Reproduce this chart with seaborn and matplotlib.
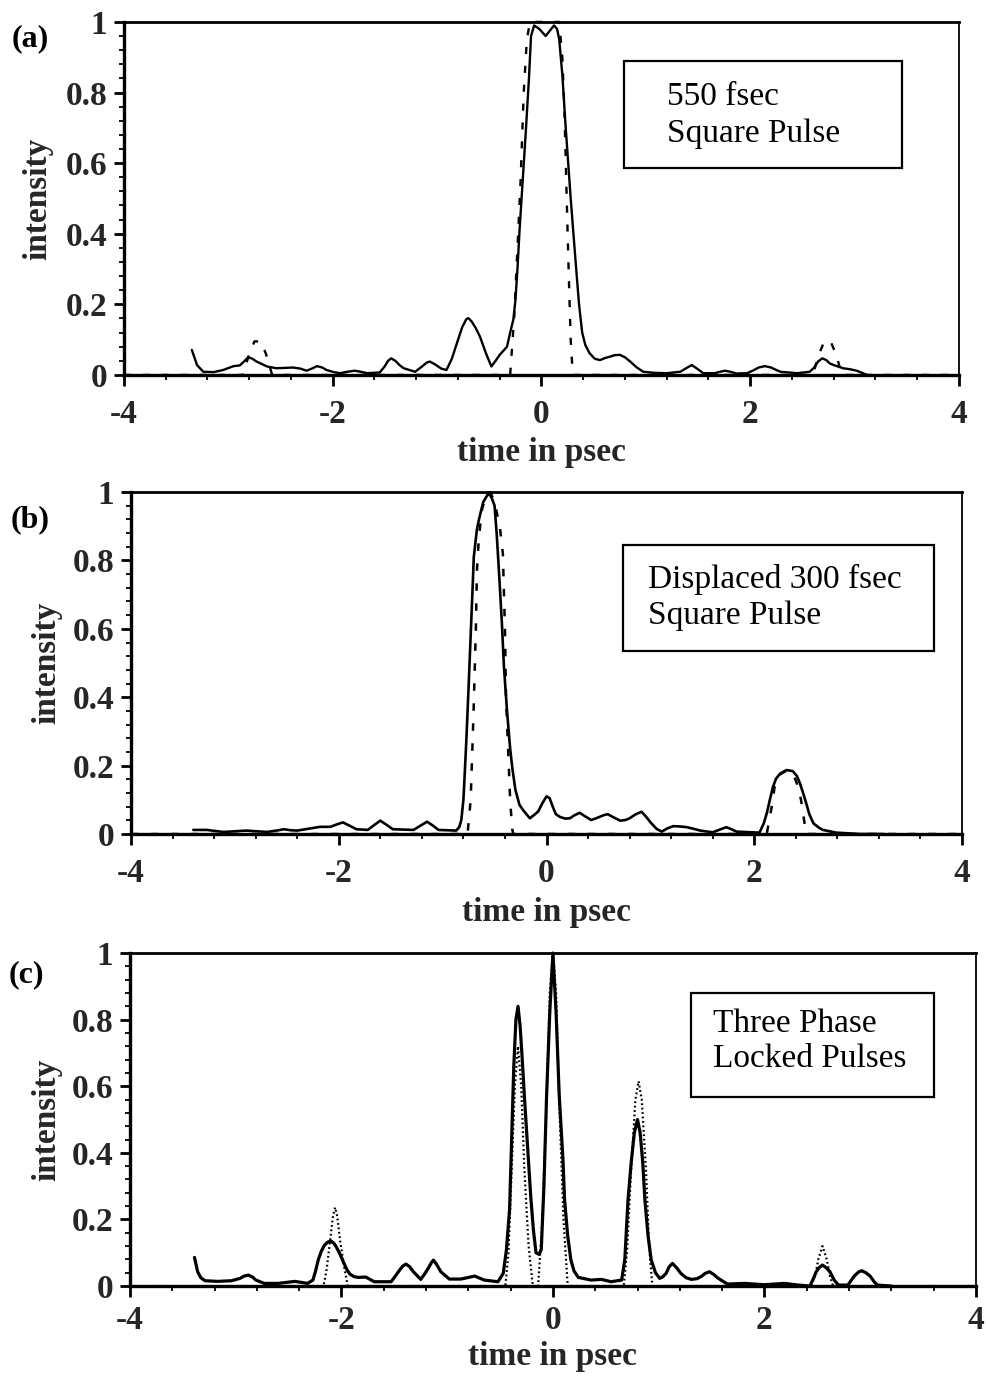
import matplotlib
matplotlib.use("Agg")
import matplotlib.pyplot as plt
from matplotlib.ticker import MultipleLocator
from matplotlib.patches import Rectangle
import pandas as pd
import seaborn as sns

sns.set_theme(style="ticks")
plt.rcParams["font.family"] = ["Liberation Serif", "DejaVu Serif"]
plt.rcParams["axes.unicode_minus"] = False

# ---------------------------------------------------------------- data
x_ticks = [-4, -2, 0, 2, 4]
x_tick_labels = ["-4", "-2", "0", "2", "4"]
y_ticks = [0, 0.2, 0.4, 0.6, 0.8, 1.0]
y_tick_labels = ["0", "0.2", "0.4", "0.6", "0.8", "1"]
x_label = "time in psec"
y_label = "intensity"
panel_tags = ["(a)", "(b)", "(c)"]
box_texts = [["550 fsec", "Square Pulse"],
             ["Displaced 300 fsec", "Square Pulse"],
             ["Three Phase", "Locked Pulses"]]

# (a) 550 fsec square pulse: measured (solid) and target (dashed)
a_measured = [
    (-3.35, 0.071), (-3.30, 0.028), (-3.24, 0.009), (-3.14, 0.008), (-3.05, 0.014),
    (-2.95, 0.025), (-2.89, 0.027), (-2.85, 0.038), (-2.81, 0.050), (-2.77, 0.046),
    (-2.73, 0.038), (-2.63, 0.024), (-2.54, 0.019), (-2.46, 0.020), (-2.38, 0.021),
    (-2.31, 0.018), (-2.25, 0.012), (-2.20, 0.018), (-2.15, 0.025), (-2.10, 0.021),
    (-2.06, 0.014), (-1.99, 0.008), (-1.93, 0.005), (-1.86, 0.009), (-1.79, 0.012),
    (-1.73, 0.009), (-1.67, 0.005), (-1.55, 0.007), (-1.50, 0.025), (-1.47, 0.040),
    (-1.44, 0.047), (-1.40, 0.040), (-1.36, 0.028), (-1.32, 0.019), (-1.21, 0.009),
    (-1.14, 0.025), (-1.10, 0.035), (-1.07, 0.038), (-1.02, 0.030), (-0.96, 0.018),
    (-0.91, 0.014), (-0.86, 0.045), (-0.81, 0.090), (-0.76, 0.135), (-0.72, 0.158),
    (-0.70, 0.161), (-0.67, 0.152), (-0.63, 0.133), (-0.59, 0.109), (-0.53, 0.060),
    (-0.48, 0.024), (-0.44, 0.040), (-0.40, 0.057), (-0.33, 0.080), (-0.30, 0.120),
    (-0.27, 0.156), (-0.25, 0.210), (-0.23, 0.300), (-0.21, 0.410), (-0.18, 0.550),
    (-0.15, 0.690), (-0.12, 0.840), (-0.10, 0.960), (-0.07, 0.990), (-0.02, 0.980),
    (0.04, 0.960), (0.08, 0.975), (0.12, 0.990), (0.15, 0.980), (0.17, 0.950),
    (0.20, 0.850), (0.23, 0.710), (0.28, 0.500), (0.33, 0.310), (0.36, 0.200),
    (0.39, 0.120), (0.42, 0.085), (0.46, 0.062), (0.51, 0.046), (0.56, 0.042),
    (0.61, 0.048), (0.66, 0.052), (0.70, 0.056), (0.75, 0.057), (0.80, 0.050),
    (0.85, 0.038), (0.91, 0.022), (0.975, 0.009), (1.08, 0.006), (1.20, 0.005),
    (1.33, 0.009), (1.38, 0.018), (1.44, 0.028), (1.49, 0.018), (1.55, 0.005),
    (1.66, 0.005), (1.71, 0.009), (1.76, 0.012), (1.81, 0.009), (1.87, 0.004),
    (1.97, 0.005), (2.03, 0.013), (2.08, 0.021), (2.14, 0.025), (2.20, 0.021),
    (2.25, 0.014), (2.29, 0.009), (2.45, 0.005), (2.57, 0.009), (2.61, 0.020),
    (2.65, 0.038), (2.69, 0.047), (2.73, 0.042), (2.76, 0.033), (2.80, 0.028),
    (2.89, 0.019), (2.96, 0.016), (3.02, 0.012), (3.07, 0.006), (3.12, 0.000),
]
a_target = [
    (-4.00, 0.0), (-2.86, 0.0), (-2.80, 0.06), (-2.75, 0.095), (-2.69, 0.095),
    (-2.64, 0.06), (-2.58, 0.0), (-0.30, 0.0), (-0.26, 0.17), (-0.23, 0.36),
    (-0.20, 0.55), (-0.17, 0.80), (-0.14, 0.95), (-0.11, 1.0), (0.17, 1.0),
    (0.20, 0.90), (0.22, 0.75), (0.24, 0.52), (0.26, 0.30), (0.28, 0.10),
    (0.30, 0.0), (2.60, 0.0), (2.66, 0.06), (2.71, 0.095), (2.77, 0.095),
    (2.82, 0.06), (2.88, 0.0), (4.00, 0.0),
]

# (b) displaced 300 fsec square pulse
b_measured = [
    (-3.40, 0.012), (-3.27, 0.012), (-3.11, 0.006), (-2.89, 0.010), (-2.69, 0.006),
    (-2.58, 0.011), (-2.53, 0.014), (-2.46, 0.011), (-2.40, 0.010), (-2.28, 0.016),
    (-2.18, 0.021), (-2.08, 0.021), (-2.02, 0.028), (-1.96, 0.034), (-1.90, 0.025),
    (-1.83, 0.014), (-1.72, 0.012), (-1.66, 0.026), (-1.60, 0.039), (-1.54, 0.027),
    (-1.48, 0.014), (-1.28, 0.012), (-1.21, 0.025), (-1.15, 0.036), (-1.09, 0.024),
    (-1.04, 0.012), (-0.87, 0.010), (-0.84, 0.020), (-0.82, 0.041), (-0.80, 0.100),
    (-0.79, 0.158), (-0.77, 0.285), (-0.75, 0.430), (-0.73, 0.580), (-0.71, 0.730),
    (-0.70, 0.810), (-0.67, 0.890), (-0.65, 0.920), (-0.61, 0.970), (-0.56, 0.996),
    (-0.53, 0.985), (-0.50, 0.960), (-0.48, 0.880), (-0.46, 0.780), (-0.43, 0.620),
    (-0.41, 0.490), (-0.38, 0.360), (-0.35, 0.250), (-0.33, 0.195), (-0.30, 0.130),
    (-0.26, 0.085), (-0.22, 0.068), (-0.16, 0.046), (-0.11, 0.058), (-0.08, 0.066),
    (-0.04, 0.090), (0.00, 0.110), (0.03, 0.105), (0.06, 0.080), (0.09, 0.058),
    (0.13, 0.050), (0.18, 0.045), (0.225, 0.046), (0.27, 0.055), (0.32, 0.062),
    (0.37, 0.052), (0.43, 0.041), (0.47, 0.045), (0.51, 0.050), (0.55, 0.055),
    (0.59, 0.058), (0.65, 0.048), (0.71, 0.039), (0.76, 0.041), (0.80, 0.046),
    (0.86, 0.058), (0.915, 0.065), (0.96, 0.050), (1.01, 0.031), (1.06, 0.015),
    (1.11, 0.007), (1.16, 0.016), (1.22, 0.023), (1.29, 0.022), (1.35, 0.020),
    (1.42, 0.015), (1.48, 0.010), (1.60, 0.005), (1.66, 0.012), (1.73, 0.020),
    (1.78, 0.014), (1.83, 0.007), (2.05, 0.004), (2.09, 0.030), (2.12, 0.060),
    (2.15, 0.100), (2.18, 0.138), (2.21, 0.162), (2.25, 0.177), (2.31, 0.187),
    (2.37, 0.184), (2.41, 0.170), (2.44, 0.148), (2.47, 0.120), (2.50, 0.090),
    (2.53, 0.058), (2.57, 0.031), (2.62, 0.019), (2.66, 0.012), (2.79, 0.004),
    (3.02, 0.000), (3.25, 0.000),
]
b_target = [
    (-4.00, 0.0), (-0.76, 0.0), (-0.73, 0.10), (-0.72, 0.19), (-0.70, 0.38),
    (-0.68, 0.60), (-0.67, 0.77), (-0.65, 0.87), (-0.62, 0.95), (-0.58, 0.99),
    (-0.54, 1.0), (-0.50, 0.97), (-0.45, 0.90), (-0.42, 0.82), (-0.40, 0.60),
    (-0.39, 0.40), (-0.37, 0.25), (-0.35, 0.10), (-0.33, 0.015), (-0.32, 0.0),
    (2.12, 0.0), (2.15, 0.05), (2.18, 0.10), (2.20, 0.15), (2.25, 0.175),
    (2.31, 0.185), (2.37, 0.18), (2.42, 0.14), (2.45, 0.10), (2.48, 0.04),
    (2.50, 0.0), (4.00, 0.0),
]

# (c) three phase-locked pulses: measured (solid) and target (dotted)
c_measured = [
    (-3.39, 0.086), (-3.36, 0.043), (-3.33, 0.025), (-3.29, 0.016), (-3.17, 0.014),
    (-3.04, 0.016), (-2.96, 0.023), (-2.92, 0.030), (-2.88, 0.033), (-2.84, 0.027),
    (-2.81, 0.018), (-2.73, 0.008), (-2.60, 0.008), (-2.44, 0.014), (-2.32, 0.008),
    (-2.27, 0.018), (-2.245, 0.045), (-2.22, 0.078), (-2.19, 0.105), (-2.16, 0.123),
    (-2.13, 0.132), (-2.10, 0.135), (-2.07, 0.128), (-2.05, 0.118), (-2.02, 0.100),
    (-1.99, 0.078), (-1.95, 0.050), (-1.92, 0.036), (-1.88, 0.028), (-1.84, 0.026),
    (-1.77, 0.027), (-1.73, 0.020), (-1.69, 0.013), (-1.53, 0.013), (-1.49, 0.030),
    (-1.45, 0.048), (-1.42, 0.060), (-1.39, 0.066), (-1.355, 0.058), (-1.32, 0.043),
    (-1.25, 0.020), (-1.21, 0.038), (-1.18, 0.053), (-1.15, 0.070), (-1.13, 0.078),
    (-1.10, 0.065), (-1.06, 0.043), (-0.98, 0.021), (-0.87, 0.021), (-0.80, 0.026),
    (-0.74, 0.030), (-0.65, 0.018), (-0.52, 0.013), (-0.47, 0.038), (-0.44, 0.108),
    (-0.41, 0.230), (-0.39, 0.450), (-0.37, 0.660), (-0.35, 0.800), (-0.33, 0.840),
    (-0.31, 0.780), (-0.29, 0.680), (-0.27, 0.570), (-0.24, 0.420), (-0.21, 0.270),
    (-0.185, 0.170), (-0.16, 0.100), (-0.13, 0.095), (-0.11, 0.110), (-0.085, 0.300),
    (-0.06, 0.570), (-0.03, 0.820), (0.00, 1.000), (0.03, 0.820), (0.06, 0.570),
    (0.095, 0.380), (0.11, 0.260), (0.14, 0.150), (0.17, 0.078), (0.20, 0.045),
    (0.24, 0.026), (0.36, 0.018), (0.46, 0.020), (0.55, 0.013), (0.65, 0.018),
    (0.68, 0.080), (0.71, 0.258), (0.74, 0.370), (0.77, 0.460), (0.80, 0.500),
    (0.825, 0.460), (0.85, 0.370), (0.87, 0.258), (0.90, 0.150), (0.93, 0.078),
    (0.97, 0.040), (1.01, 0.023), (1.04, 0.028), (1.07, 0.038), (1.10, 0.058),
    (1.13, 0.068), (1.17, 0.055), (1.21, 0.038), (1.26, 0.025), (1.31, 0.020),
    (1.36, 0.022), (1.40, 0.028), (1.44, 0.038), (1.48, 0.043), (1.52, 0.035),
    (1.56, 0.024), (1.65, 0.006), (1.81, 0.008), (2.00, 0.004), (2.19, 0.008),
    (2.32, 0.003), (2.43, 0.000), (2.46, 0.020), (2.49, 0.043), (2.52, 0.056),
    (2.55, 0.063), (2.585, 0.055), (2.62, 0.043), (2.66, 0.018), (2.70, 0.003),
    (2.79, 0.003), (2.85, 0.030), (2.89, 0.042), (2.92, 0.046), (2.96, 0.040),
    (3.00, 0.030), (3.04, 0.012), (3.07, 0.003), (3.20, 0.000),
]
c_target = [
    (-4.00, 0.0), (-2.17, 0.0), (-2.14, 0.05), (-2.11, 0.13), (-2.08, 0.21),
    (-2.06, 0.236), (-2.04, 0.21), (-2.01, 0.13), (-1.97, 0.05), (-1.94, 0.0),
    (-0.45, 0.0), (-0.42, 0.10), (-0.39, 0.35), (-0.36, 0.60), (-0.33, 0.72),
    (-0.30, 0.60), (-0.27, 0.35), (-0.23, 0.12), (-0.19, 0.0), (-0.14, 0.0),
    (-0.10, 0.20), (-0.06, 0.55), (-0.03, 0.88), (0.00, 1.0), (0.03, 0.88),
    (0.06, 0.55), (0.10, 0.20), (0.14, 0.0), (0.67, 0.0), (0.70, 0.10),
    (0.74, 0.35), (0.78, 0.56), (0.81, 0.615), (0.84, 0.56), (0.88, 0.35),
    (0.91, 0.12), (0.94, 0.0), (2.44, 0.0), (2.48, 0.03), (2.51, 0.08),
    (2.55, 0.12), (2.59, 0.08), (2.62, 0.03), (2.65, 0.0), (4.00, 0.0),
]

# ---------------------------------------------------------------- layout
panels = [
    dict(rect=[0.1256, 0.7281, 0.846, 0.256], measured=a_measured, target=a_target,
         meas_lw=1.7, target_style=(0, (3, 5)), target_lw=1.7,
         box=(0.599, 0.586, 0.333, 0.304), text_x=0.650, text_y=(0.765, 0.660),
         tag_xy=(0.031, 0.972), ylab_x=-0.085, xlab_y=-0.176, xpad=9),
    dict(rect=[0.1327, 0.3952, 0.842, 0.248], measured=b_measured, target=b_target,
         meas_lw=1.9, target_style=(0, (3, 5)), target_lw=1.8,
         box=(0.592, 0.535, 0.374, 0.310), text_x=0.622, text_y=(0.719, 0.614),
         tag_xy=(0.031, 0.623), ylab_x=-0.083, xlab_y=-0.184, xpad=9),
    dict(rect=[0.1317, 0.0674, 0.857, 0.2415], measured=c_measured, target=c_target,
         meas_lw=2.3, target_style=(0, (0.8, 1.2)), target_lw=1.6,
         box=(0.663, 0.568, 0.287, 0.312), text_x=0.689, text_y=(0.763, 0.658),
         tag_xy=(0.027, 0.293), ylab_x=-0.080, xlab_y=-0.165, xpad=6),
]

bold = dict(family=["Liberation Serif", "DejaVu Serif"], weight="bold")

fig = plt.figure(figsize=(9.87, 13.79), dpi=100)
fig.patch.set_facecolor("white")

for spec, tag, texts in zip(panels, panel_tags, box_texts):
    ax = fig.add_axes(spec["rect"])
    ax.set_facecolor("white")

    meas = pd.DataFrame(spec["measured"], columns=["t", "I"])
    targ = pd.DataFrame(spec["target"], columns=["t", "I"])
    sns.lineplot(data=targ, x="t", y="I", ax=ax, color="black", estimator=None,
                 sort=False, lw=spec["target_lw"], linestyle=spec["target_style"],
                 clip_on=False)
    sns.lineplot(data=meas, x="t", y="I", ax=ax, color="black", estimator=None,
                 sort=False, lw=spec["meas_lw"], clip_on=False,
                 solid_joinstyle="round", solid_capstyle="round")

    ax.set_xlim(-4, 4)
    ax.set_ylim(0, 1)
    ax.set_xticks(x_ticks)
    ax.set_xticklabels(x_tick_labels, fontdict=dict(size=24, **bold))
    ax.set_yticks(y_ticks)
    ax.set_yticklabels(y_tick_labels, fontdict=dict(size=24, **bold))
    ax.xaxis.set_minor_locator(MultipleLocator(0.4))
    ax.yaxis.set_minor_locator(MultipleLocator(0.04))
    ax.tick_params(axis="x", which="major", direction="out", length=8, width=2,
                   color="black", pad=spec["xpad"])
    ax.tick_params(axis="y", which="major", direction="out", length=7, width=2,
                   color="black", pad=5)
    ax.tick_params(axis="both", which="minor", direction="out", length=3.5,
                   width=1.3, color="black")
    ax.tick_params(top=False, right=False, which="both")

    ax.set_xlabel(x_label, fontsize=24, **bold)
    ax.set_ylabel(y_label, fontsize=24, **bold)
    ax.xaxis.set_label_coords(0.5, spec["xlab_y"])
    ax.yaxis.set_label_coords(spec["ylab_x"], 0.5)

    for side, w in (("left", 2.4), ("bottom", 2.4), ("top", 2.0), ("right", 1.3)):
        ax.spines[side].set_visible(True)
        ax.spines[side].set_linewidth(w)
        ax.spines[side].set_color("black")

    bx, by, bw, bh = spec["box"]
    ax.add_patch(Rectangle((bx, by), bw, bh, transform=ax.transAxes, fill=False,
                           edgecolor="black", linewidth=1.6, zorder=5))
    for line, ty in zip(texts, spec["text_y"]):
        ax.text(spec["text_x"], ty, line, transform=ax.transAxes, fontsize=24,
                family=["Liberation Serif", "DejaVu Serif"], va="baseline",
                ha="left", color="black", zorder=6)

    fig.text(spec["tag_xy"][0], spec["tag_xy"][1], tag, fontsize=23,
             ha="center", va="center", color="black", **bold)

fig.savefig("out.png", dpi=100, facecolor="white")
